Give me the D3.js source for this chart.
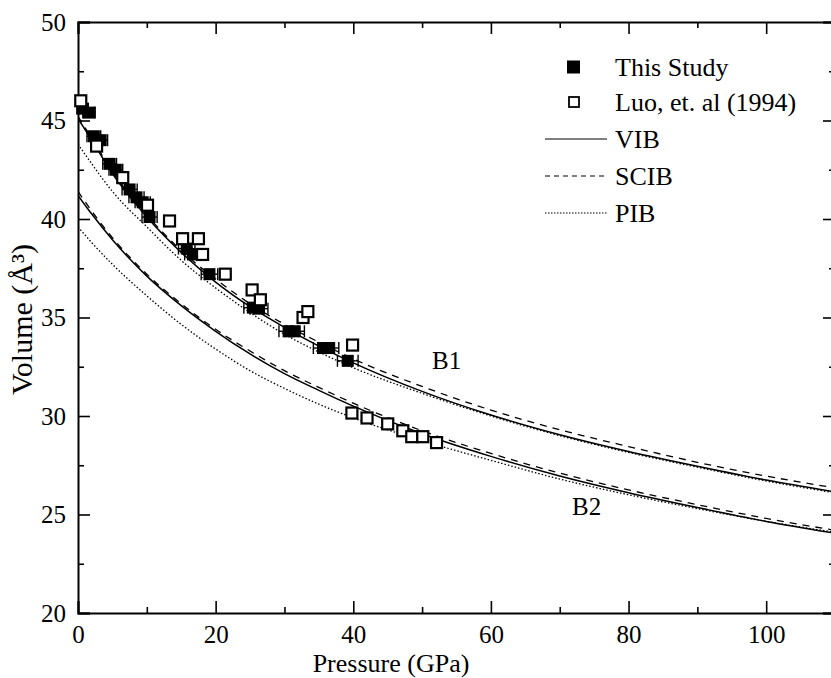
<!DOCTYPE html>
<html>
<head>
<meta charset="utf-8">
<script src="https://cdn.jsdelivr.net/npm/d3@7"></script>
<style>
    body { margin: 0; background: #fff; }
    svg { display: block; }
    text { font-family: "Liberation Serif", "Times New Roman", serif; fill: #000; }
</style>
</head>
<body>
<div id="chart"></div>
<script>
// ============================================================================
// data
// ============================================================================

// This Study: pressure (GPa), volume (A^3), horizontal error (GPa)
const studyP = [0.6, 1.6, 2.3, 3.3, 4.6, 5.5, 7.5, 8.5, 9.4, 10.4, 15.8, 16.7, 19.1, 25.4, 26.3, 30.6, 31.5, 35.6, 36.5, 39.2];
const studyV = [45.6, 45.4, 44.2, 44.0, 42.8, 42.5, 41.5, 41.1, 40.85, 40.1, 38.5, 38.2, 37.2, 35.5, 35.45, 34.3, 34.3, 33.45, 33.45, 32.8];
const studyErr = [0.9, 0.9, 1.0, 1.0, 1.0, 1.0, 1.1, 1.1, 1.1, 1.1, 1.2, 1.2, 1.2, 1.3, 1.3, 1.4, 1.4, 1.4, 1.4, 1.5];

// Luo, et. al (1994)
const luoP = [0.4, 2.7, 6.5, 10.1, 13.3, 15.2, 17.5, 18.1, 21.4, 25.3, 26.5, 32.7, 33.4, 39.9, 39.8, 42.0, 45.0, 47.2, 48.5, 50.1, 52.1];
const luoV = [46.0, 43.7, 42.1, 40.7, 39.9, 39.0, 39.0, 38.2, 37.2, 36.4, 35.9, 35.0, 35.3, 33.6, 30.15, 29.9, 29.6, 29.25, 28.95, 28.95, 28.65];

// fitted curves, sampled at these pressures
const curveP = [0, 2, 5, 10, 15, 20, 25, 30, 35, 40, 50, 60, 70, 80, 90, 100, 110];
const b1VIB  = [45.1, 44.0, 42.3, 40.1, 38.3, 36.8, 35.55, 34.5, 33.55, 32.7, 31.25, 30.05, 29.05, 28.2, 27.45, 26.75, 26.15];
const b1SCIB = [45.2, 44.1, 42.4, 40.2, 38.4, 36.95, 35.7, 34.65, 33.75, 32.9, 31.5, 30.3, 29.3, 28.45, 27.65, 26.95, 26.35];
const b1PIB  = [43.8, 42.8, 41.4, 39.6, 37.9, 36.5, 35.25, 34.15, 33.25, 32.45, 31.15, 30.0, 29.0, 28.15, 27.4, 26.7, 26.1];
const b2VIB  = [41.2, 40.25, 38.95, 37.1, 35.6, 34.3, 33.15, 32.15, 31.3, 30.5, 29.1, 27.95, 26.95, 26.1, 25.35, 24.65, 24.05];
const b2SCIB = [41.4, 40.4, 39.05, 37.2, 35.7, 34.4, 33.3, 32.3, 31.45, 30.65, 29.25, 28.1, 27.1, 26.25, 25.5, 24.8, 24.2];
const b2PIB  = [39.6, 38.8, 37.7, 36.1, 34.65, 33.4, 32.3, 31.4, 30.6, 29.9, 28.75, 27.75, 26.8, 26.0, 25.3, 24.65, 24.1];

const xMajor = [0, 20, 40, 60, 80, 100];
const yMajor = [20, 25, 30, 35, 40, 45, 50];

const legendLabels = ["This Study", "Luo, et. al (1994)", "VIB", "SCIB", "PIB"];

// ============================================================================
// chart
// ============================================================================

const width = 831, height = 678;
const plotLeft = 78, plotRight = 835, plotTop = 22, plotBottom = 613;
const font = "'Liberation Serif', 'Times New Roman', serif";

const svg = d3.select("#chart").append("svg")
    .attr("width", width)
    .attr("height", height);

const x = d3.scaleLinear().domain([0, 110]).range([plotLeft, plotRight]);
const y = d3.scaleLinear().domain([20, 50]).range([plotBottom, plotTop]);

svg.append("defs").append("clipPath").attr("id", "clip")
    .append("rect")
    .attr("x", plotLeft).attr("y", plotTop)
    .attr("width", plotRight - plotLeft).attr("height", plotBottom - plotTop);

// axes: major + minor ticks pointing inward
const xMinor = d3.range(0, 111, 10).filter(d => d % 20 !== 0);
const yMinor = d3.range(22.5, 50, 5);

function styleAxis(g) {
    g.select(".domain").attr("stroke-width", 2);
    g.selectAll(".tick line").attr("stroke-width", 1.6);
    g.selectAll("text").style("font-family", font).style("font-size", "25px");
}

function minorAxis(g) {
    g.select(".domain").remove();
    g.selectAll(".tick line").attr("stroke-width", 1.6);
}

svg.append("g")
    .attr("transform", `translate(0,${plotBottom})`)
    .call(d3.axisBottom(x).tickValues(xMajor).tickSize(-12).tickPadding(12).tickFormat(d3.format("d")))
    .call(styleAxis);
svg.append("g")
    .attr("transform", `translate(0,${plotBottom})`)
    .call(d3.axisBottom(x).tickValues(xMinor).tickSize(-6).tickFormat(""))
    .call(minorAxis);

svg.append("g")
    .attr("transform", `translate(0,${plotTop})`)
    .call(d3.axisTop(x).tickValues(xMajor).tickSize(-12).tickFormat(""))
    .call(styleAxis);
svg.append("g")
    .attr("transform", `translate(0,${plotTop})`)
    .call(d3.axisTop(x).tickValues(xMinor).tickSize(-6).tickFormat(""))
    .call(minorAxis);

svg.append("g")
    .attr("transform", `translate(${plotLeft},0)`)
    .call(d3.axisLeft(y).tickValues(yMajor).tickSize(-12).tickPadding(12).tickFormat(d3.format("d")))
    .call(styleAxis);
svg.append("g")
    .attr("transform", `translate(${plotLeft},0)`)
    .call(d3.axisLeft(y).tickValues(yMinor).tickSize(-6).tickFormat(""))
    .call(minorAxis);

svg.append("g")
    .attr("transform", `translate(${plotRight},0)`)
    .call(d3.axisRight(y).tickValues(yMajor).tickSize(-12).tickFormat(""))
    .call(styleAxis);
svg.append("g")
    .attr("transform", `translate(${plotRight},0)`)
    .call(d3.axisRight(y).tickValues(yMinor).tickSize(-6).tickFormat(""))
    .call(minorAxis);

// axis titles
svg.append("text")
    .attr("x", 391)
    .attr("y", 672)
    .attr("text-anchor", "middle")
    .attr("font-size", 26)
    .text("Pressure (GPa)");

svg.append("text")
    .attr("transform", `translate(32,${(plotTop + plotBottom) / 2 + 2}) rotate(-90)`)
    .attr("text-anchor", "middle")
    .attr("font-size", 30)
    .text("Volume (Å³)");

// curves
const line = d3.line()
    .x(d => x(d[0]))
    .y(d => y(d[1]))
    .curve(d3.curveMonotoneX);

const curves = [
    { v: b1VIB, dash: null },
    { v: b1SCIB, dash: "7,6" },
    { v: b1PIB, dash: "1.5,2" },
    { v: b2VIB, dash: null },
    { v: b2SCIB, dash: "7,6" },
    { v: b2PIB, dash: "1.5,2" },
];

svg.append("g").attr("clip-path", "url(#clip)")
    .selectAll("path.curve")
    .data(curves)
    .join("path")
    .attr("class", "curve")
    .attr("fill", "none")
    .attr("stroke", "#000")
    .attr("stroke-width", d => d.dash ? 1.3 : 1.5)
    .attr("stroke-dasharray", d => d.dash)
    .attr("d", d => line(curveP.map((p, i) => [p, d.v[i]])));

// This Study: error bars + filled squares
const study = studyP.map((p, i) => ({ p: p, v: studyV[i], e: studyErr[i] }));
const sq = 12;

const eb = svg.append("g").attr("stroke", "#000").attr("stroke-width", 1.4);
eb.selectAll("line.bar")
    .data(study)
    .join("line")
    .attr("class", "bar")
    .attr("x1", d => x(Math.max(0, d.p - d.e))).attr("x2", d => x(d.p + d.e))
    .attr("y1", d => y(d.v)).attr("y2", d => y(d.v));
eb.selectAll("line.capl")
    .data(study.filter(d => d.p - d.e > 0))
    .join("line")
    .attr("class", "capl")
    .attr("x1", d => x(d.p - d.e)).attr("x2", d => x(d.p - d.e))
    .attr("y1", d => y(d.v) - 6).attr("y2", d => y(d.v) + 6);
eb.selectAll("line.capr")
    .data(study)
    .join("line")
    .attr("class", "capr")
    .attr("x1", d => x(d.p + d.e)).attr("x2", d => x(d.p + d.e))
    .attr("y1", d => y(d.v) - 6).attr("y2", d => y(d.v) + 6);

svg.append("g").selectAll("rect")
    .data(study)
    .join("rect")
    .attr("x", d => x(d.p) - sq / 2)
    .attr("y", d => y(d.v) - sq / 2)
    .attr("width", sq).attr("height", sq)
    .attr("fill", "#000");

// Luo: open squares
svg.append("g").selectAll("rect")
    .data(luoP.map((p, i) => ({ p: p, v: luoV[i] })))
    .join("rect")
    .attr("x", d => x(d.p) - 5.5)
    .attr("y", d => y(d.v) - 5.5)
    .attr("width", 11).attr("height", 11)
    .attr("fill", "#fff")
    .attr("stroke", "#000")
    .attr("stroke-width", 2.2);

// curve labels
svg.append("text").attr("x", 432).attr("y", 369).attr("font-size", 25).text("B1");
svg.append("text").attr("x", 572).attr("y", 515).attr("font-size", 25).text("B2");

// legend
const legend = svg.append("g");
const rowY = [67, 102, 139, 176, 213];

legend.append("rect")
    .attr("x", 567).attr("y", rowY[0] - 6.5)
    .attr("width", 13).attr("height", 13)
    .attr("fill", "#000");
legend.append("rect")
    .attr("x", 569).attr("y", rowY[1] - 5)
    .attr("width", 10).attr("height", 10)
    .attr("fill", "#fff").attr("stroke", "#000").attr("stroke-width", 1.8);

[null, "5,4", "1.5,1.5"].forEach((dash, i) => {
    legend.append("line")
        .attr("x1", 545).attr("x2", 607)
        .attr("y1", rowY[i + 2]).attr("y2", rowY[i + 2])
        .attr("stroke", "#000")
        .attr("stroke-width", 1.2)
        .attr("stroke-dasharray", dash);
});

legend.selectAll("text")
    .data(legendLabels)
    .join("text")
    .attr("x", 615)
    .attr("y", (d, i) => rowY[i])
    .attr("dy", "0.35em")
    .attr("font-size", 26)
    .text(d => d);
</script>
</body>
</html>
